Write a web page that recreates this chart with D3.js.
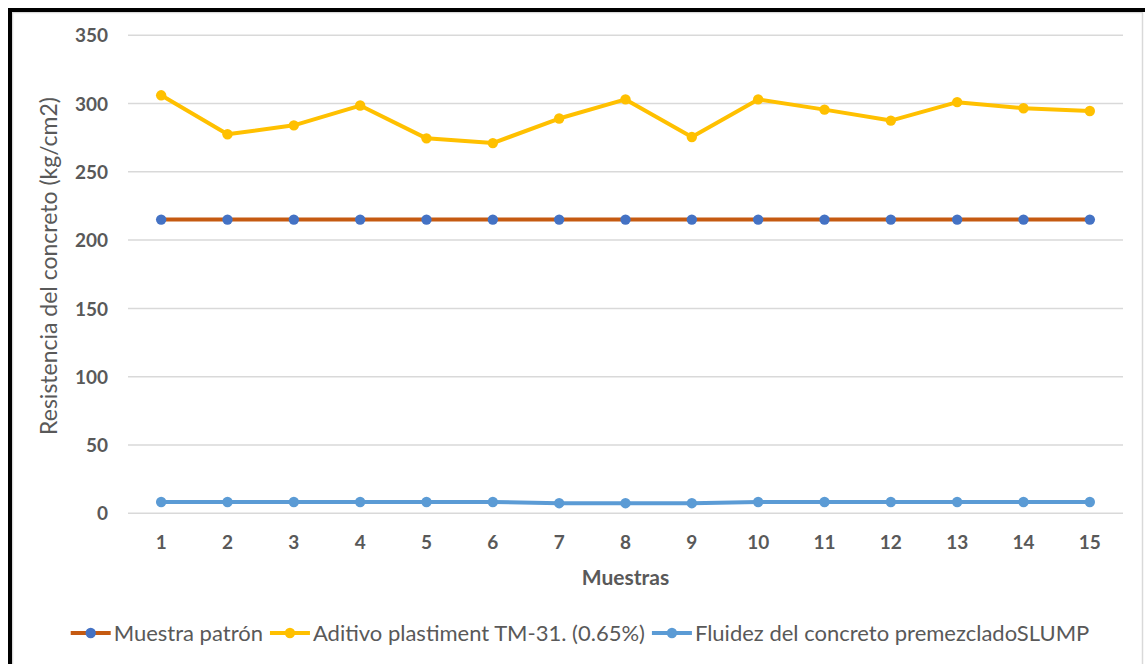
<!DOCTYPE html>
<html>
<head>
<meta charset="utf-8">
<script src="https://cdn.jsdelivr.net/npm/d3@7"></script>
<style>
  html, body { margin: 0; padding: 0; background: #ffffff; }
  svg { display: block; }
  text { font-family: Lato, "Open Sans", "Liberation Sans", sans-serif; fill: #595959; }
</style>
</head>
<body>
<svg id="chart" width="1145" height="664"></svg>
<script>
// Compressive strength per sample (kg/cm2)
const samples = [1, 2, 3, 4, 5, 6, 7, 8, 9, 10, 11, 12, 13, 14, 15];
const muestraPatron = [215, 215, 215, 215, 215, 215, 215, 215, 215, 215, 215, 215, 215, 215, 215];
const aditivoPlastiment = [306, 277.5, 284, 298.5, 274.5, 271, 289, 303, 275.5, 303, 295.5, 287.5, 301, 296.5, 294.5];
const fluidezSlump = [8.3, 8.3, 8.3, 8.3, 8.3, 8.3, 7.4, 7.4, 7.4, 8.3, 8.3, 8.3, 8.3, 8.3, 8.3];
const yTicks = [0, 50, 100, 150, 200, 250, 300, 350];
const seriesNames = ["Muestra patrón", "Aditivo plastiment TM-31. (0.65%)", "Fluidez del concreto premezcladoSLUMP"];

const series = [
  { name: seriesNames[0], values: muestraPatron, line: "#C55A11", marker: "#4472C4" },
  { name: seriesNames[1], values: aditivoPlastiment, line: "#FFC000", marker: "#FFC000" },
  { name: seriesNames[2], values: fluidezSlump, line: "#5B9BD5", marker: "#5B9BD5" }
];

const svg = d3.select("#chart");

// Outer frame: thin gray chart border with a heavy black edge on top and left
svg.append("rect").attr("x", 12.5).attr("y", 12.5).attr("width", 1130).attr("height", 700)
  .attr("fill", "#ffffff").attr("stroke", "#d9d9d9").attr("stroke-width", 1.5);
svg.append("path").attr("d", "M10,664 L10,10 L1145,10")
  .attr("fill", "none").attr("stroke", "#000000").attr("stroke-width", 4);

const plot = { left: 128, right: 1123, top: 35.2, bottom: 513.3 };

const x = d3.scaleBand().domain(samples).range([plot.left, plot.right]);
const y = d3.scaleLinear().domain([0, 350]).range([plot.bottom, plot.top]);
const cx = d => x(d) + x.bandwidth() / 2;

// Horizontal gridlines
svg.append("g")
  .selectAll("line").data(yTicks).join("line")
  .attr("x1", plot.left).attr("x2", plot.right)
  .attr("y1", d => y(d)).attr("y2", d => y(d))
  .attr("stroke", "#d9d9d9").attr("stroke-width", 1.5);

// Y axis labels
const yAxis = svg.append("g").attr("transform", `translate(${plot.left - 20},0)`)
  .call(d3.axisLeft(y).tickValues(yTicks).tickSize(0).tickPadding(0));
yAxis.select(".domain").remove();
yAxis.selectAll("text").attr("font-size", 19).attr("font-weight", "bold")
  .style("font-family", "Lato, 'Open Sans', sans-serif").attr("fill", "#595959").attr("dy", "0.35em");

// X axis labels
const xAxis = svg.append("g").attr("transform", `translate(0,${plot.bottom + 22})`)
  .call(d3.axisBottom(x).tickSize(0).tickPadding(0));
xAxis.select(".domain").remove();
xAxis.selectAll("text").attr("font-size", 19).attr("font-weight", "bold")
  .style("font-family", "Lato, 'Open Sans', sans-serif").attr("fill", "#595959").attr("dy", "0.71em");

// Axis titles
svg.append("text").attr("x", (plot.left + plot.right) / 2).attr("y", 585)
  .attr("text-anchor", "middle").attr("font-size", 21).attr("font-weight", "bold")
  .text("Muestras");
svg.append("text").attr("transform", `translate(57,266) rotate(-90)`)
  .attr("text-anchor", "middle").attr("font-size", 23)
  .text("Resistencia del concreto (kg/cm2)");

// Series lines and markers
const line = d3.line().x((d, i) => cx(samples[i])).y(d => y(d));
series.forEach(s => {
  const g = svg.append("g");
  g.append("path").datum(s.values).attr("d", line)
    .attr("fill", "none").attr("stroke", s.line).attr("stroke-width", 4)
    .attr("stroke-linejoin", "round");
  g.selectAll("circle").data(s.values).join("circle")
    .attr("cx", (d, i) => cx(samples[i])).attr("cy", d => y(d))
    .attr("r", 5.2).attr("fill", s.marker);
});

// Legend
const legend = svg.append("g");
let lx = 0;
series.forEach(s => {
  const e = legend.append("g").attr("transform", `translate(${lx},0)`);
  e.append("line").attr("x1", 0).attr("x2", 40).attr("y1", 0).attr("y2", 0)
    .attr("stroke", s.line).attr("stroke-width", 4);
  e.append("circle").attr("cx", 20).attr("cy", 0).attr("r", 5.2).attr("fill", s.marker);
  const t = e.append("text").attr("x", 43).attr("y", 0).attr("dy", "0.35em")
    .attr("font-size", 22).text(s.name);
  const w = t.node().getComputedTextLength();
  lx += 43 + w + 7;
});
const totalW = lx - 7;
legend.attr("transform", `translate(${580 - totalW / 2},633)`);
</script>
</body>
</html>
